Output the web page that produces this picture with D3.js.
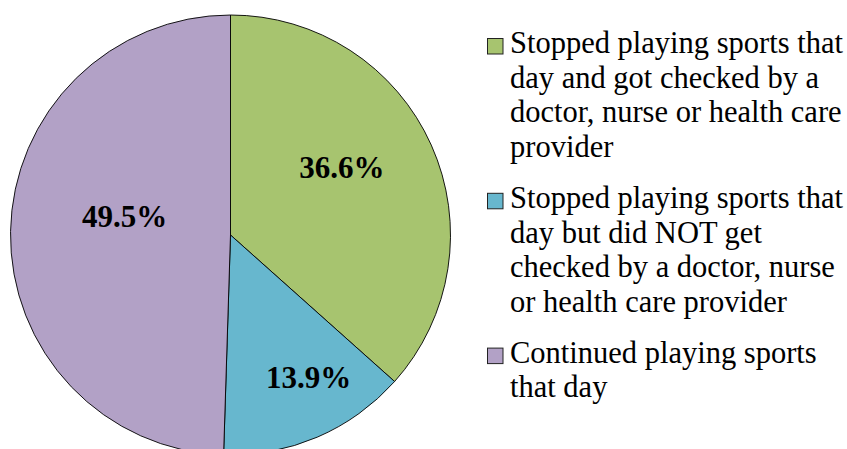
<!DOCTYPE html>
<html>
<head>
<meta charset="utf-8">
<script src="https://cdn.jsdelivr.net/npm/d3@7"></script>
<style>
  body { margin: 0; background: #fff; }
  svg { display: block; }
</style>
</head>
<body>
<div id="chart"></div>
<script>
// data
const categories = ['checked', 'notChecked', 'continued']
const values = [36.6, 13.9, 49.5]
const colours = ['#A7C46F', '#67B7CE', '#B2A1C6']
const legendLines = [
    ['Stopped playing sports that', 'day and got checked by a', 'doctor, nurse or health care', 'provider'],
    ['Stopped playing sports that', 'day but did NOT get', 'checked by a doctor, nurse', 'or health care provider'],
    ['Continued playing sports', 'that day']
]

// dimensions
const w = 847
const h = 449
const cx = 230.5
const cy = 235
const r = 220

// label nudges so they sit where the original had them
const labelNudge = [[-9, -14], [26, 21], [26, -17]]

const svg = d3.select('#chart')
    .append('svg')
    .attr('width', w)
    .attr('height', h)

const pie = d3.pie().sort(null).value(d => d)
const arcs = pie(values)

const arc = d3.arc().innerRadius(0).outerRadius(r)
const labelArc = d3.arc().innerRadius(r * 0.6).outerRadius(r * 0.6)

const g = svg.append('g')
    .attr('transform', `translate(${cx},${cy})`)

g.selectAll('path')
    .data(arcs)
    .enter()
    .append('path')
    .attr('d', arc)
    .attr('fill', (d, i) => colours[i])
    .attr('stroke', '#000')
    .attr('stroke-width', 0.9)

g.selectAll('text')
    .data(arcs)
    .enter()
    .append('text')
    .attr('x', (d, i) => labelArc.centroid(d)[0] + labelNudge[i][0])
    .attr('y', (d, i) => labelArc.centroid(d)[1] + labelNudge[i][1])
    .attr('dy', '0.35em')
    .attr('text-anchor', 'middle')
    .style('font-family', '"Liberation Serif", "Times New Roman", serif')
    .style('font-weight', 'bold')
    .style('font-size', '31px')
    .text(d => d3.format('.1f')(d.data) + '%')

// legend
const lineH = 34.7
const itemGap = 16
const legX = 487.5
const legY = 38.5
const box = 15.5

let y = legY
const legend = svg.append('g')
legendLines.forEach((lines, i) => {
    const item = legend.append('g')
    item.append('rect')
        .attr('x', legX)
        .attr('y', y)
        .attr('width', box)
        .attr('height', box)
        .attr('fill', colours[i])
        .attr('stroke', '#222')
        .attr('stroke-width', 1)
    item.selectAll('text')
        .data(lines)
        .enter()
        .append('text')
        .attr('x', 510)
        .attr('y', (d, j) => y + 14.5 + j * lineH)
        .style('font-family', '"Liberation Serif", "Times New Roman", serif')
        .style('font-size', '30.5px')
        .attr('fill', '#000')
        .text(d => d)
    y += lines.length * lineH + itemGap
})
</script>
</body>
</html>
